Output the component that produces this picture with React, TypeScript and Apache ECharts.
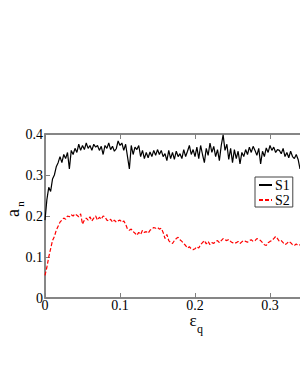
import React, { useEffect, useRef } from "react";
import * as echarts from "echarts";

const X_STEP = 0.0025;
const X_TICKS = [0, 0.1, 0.2, 0.3, 0.4];
const Y_TICKS = [0, 0.1, 0.2, 0.3, 0.4];
const SERIES_NAMES = ["S1", "S2"];

const S1 = [
  0.19, 0.24, 0.27, 0.26, 0.29, 0.30, 0.32, 0.33, 0.345, 0.33,
  0.35, 0.34, 0.355, 0.315, 0.36, 0.35, 0.365, 0.355, 0.375, 0.36,
  0.372, 0.362, 0.378, 0.365, 0.372, 0.36, 0.375, 0.368, 0.372, 0.36,
  0.37, 0.35, 0.372, 0.365, 0.378, 0.362, 0.37, 0.358, 0.364, 0.383,
  0.372, 0.378, 0.36, 0.375, 0.345, 0.315, 0.372, 0.35, 0.368, 0.362,
  0.372, 0.345, 0.36, 0.34, 0.355, 0.342, 0.356, 0.345, 0.36, 0.348,
  0.362, 0.35, 0.36, 0.345, 0.352, 0.335, 0.36, 0.34, 0.355, 0.338,
  0.358, 0.345, 0.352, 0.34, 0.362, 0.345, 0.358, 0.372, 0.35, 0.362,
  0.345, 0.368, 0.34, 0.372, 0.35, 0.33, 0.365, 0.348, 0.378, 0.355,
  0.37, 0.345, 0.362, 0.335, 0.372, 0.398, 0.36, 0.375, 0.338, 0.365,
  0.33, 0.362, 0.34, 0.358, 0.327, 0.355, 0.345, 0.362, 0.35, 0.368,
  0.355, 0.37, 0.36, 0.348, 0.365, 0.327, 0.358, 0.345, 0.366, 0.355,
  0.372, 0.36, 0.368, 0.355, 0.362, 0.36, 0.352, 0.365, 0.345, 0.355,
  0.342, 0.358, 0.345, 0.34, 0.35, 0.338, 0.315, 0.33, 0.32, 0.335,
  0.33,
];

const S2 = [
  0.055, 0.075, 0.1, 0.12, 0.14, 0.15, 0.165, 0.175, 0.185, 0.19,
  0.195, 0.192, 0.2, 0.198, 0.203, 0.2, 0.205, 0.202, 0.198, 0.205,
  0.18, 0.19, 0.195, 0.19, 0.198, 0.188, 0.195, 0.2, 0.19, 0.197,
  0.192, 0.2, 0.198, 0.19, 0.188, 0.192, 0.185, 0.19, 0.185, 0.188,
  0.19, 0.185, 0.188, 0.18, 0.168, 0.165, 0.168, 0.162, 0.158, 0.153,
  0.16, 0.155, 0.165, 0.16, 0.162, 0.158, 0.165, 0.168, 0.172, 0.17,
  0.172, 0.168, 0.17, 0.16, 0.145, 0.155, 0.14, 0.135, 0.133, 0.14,
  0.145, 0.148, 0.142, 0.138, 0.133, 0.128, 0.122, 0.125, 0.12, 0.118,
  0.12, 0.125, 0.122, 0.13, 0.135, 0.14, 0.132, 0.138, 0.13, 0.135,
  0.133, 0.138, 0.14, 0.135, 0.14, 0.145, 0.142, 0.14, 0.143, 0.138,
  0.135, 0.133, 0.135, 0.138, 0.133, 0.137, 0.14, 0.138, 0.136, 0.14,
  0.142, 0.138, 0.14, 0.145, 0.143, 0.14, 0.135, 0.13, 0.128, 0.135,
  0.138, 0.14, 0.145, 0.15, 0.145, 0.138, 0.14, 0.135, 0.13, 0.133,
  0.138, 0.135, 0.13, 0.128, 0.132, 0.128, 0.13, 0.133, 0.13, 0.128,
  0.132,
];

const FONT = "'Liberation Serif', 'Times New Roman', serif";
const AXIS_COLOR = "#7f7f7f";
const VISIBLE_X_MAX = 0.35;

function toPairs(values: number[]) {
  return values.map((v, i) => [+(i * X_STEP).toFixed(4), v]);
}

export default function App() {
  const ref = useRef<HTMLDivElement>(null);

  useEffect(() => {
    if (!ref.current) return;
    const chart = echarts.init(ref.current, undefined, { renderer: "svg" });
    const xMin = X_TICKS[0];
    const xMax = X_TICKS[X_TICKS.length - 1];
    const xInt = X_TICKS[1] - X_TICKS[0];
    const yMin = Y_TICKS[0];
    const yMax = Y_TICKS[Y_TICKS.length - 1];
    const yInt = Y_TICKS[1] - Y_TICKS[0];

    const labelFmt = (v: number) => (v === 0 ? "0" : String(+v.toFixed(2)));
    const xLabelFmt = (v: number) => (v > VISIBLE_X_MAX ? "" : labelFmt(v));

    chart.setOption({
      animation: false,
      backgroundColor: "#ffffff",
      grid: {
        left: 45,
        top: 134,
        width: 300,
        height: 164,
        outerBoundsMode: "none",
        containLabel: false,
        show: true,
        borderColor: AXIS_COLOR,
        borderWidth: 1.5,
        backgroundColor: "transparent",
      },
      legend: {
        data: SERIES_NAMES,
        orient: "vertical",
        left: 255,
        top: 177,
        itemWidth: 13,
        itemHeight: 8,
        itemGap: 1,
        padding: [1, 3, 0, 3],
        borderColor: "#444",
        borderWidth: 1,
        borderRadius: 0,
        itemStyle: { opacity: 0 },
        textStyle: {
          fontFamily: FONT,
          fontSize: 14,
          lineHeight: 12,
          color: "#000",
          padding: [0, 0, 0, -2],
        },
      },
      xAxis: [
        {
          type: "value",
          min: xMin,
          max: xMax,
          interval: xInt,
          position: "bottom",
          axisLine: { show: true, lineStyle: { color: AXIS_COLOR, width: 1.5 } },
          axisTick: { show: true, inside: true, length: 5, lineStyle: { color: AXIS_COLOR, width: 1 } },
          axisLabel: {
            fontFamily: FONT,
            fontSize: 14,
            lineHeight: 12,
            color: "#000",
            margin: 1,
            formatter: xLabelFmt,
          },
          splitLine: { show: false },
        },
        {
          type: "value",
          min: xMin,
          max: xMax,
          interval: xInt,
          position: "top",
          axisLine: { show: true, lineStyle: { color: AXIS_COLOR, width: 1.5 } },
          axisTick: { show: true, inside: true, length: 5, lineStyle: { color: AXIS_COLOR, width: 1 } },
          axisLabel: { show: false },
          splitLine: { show: false },
        },
      ],
      yAxis: [
        {
          type: "value",
          min: yMin,
          max: yMax,
          interval: yInt,
          position: "left",
          axisLine: { show: true, lineStyle: { color: AXIS_COLOR, width: 1.5 } },
          axisTick: { show: true, inside: true, length: 5, lineStyle: { color: AXIS_COLOR, width: 1 } },
          axisLabel: { fontFamily: FONT, fontSize: 14, color: "#000", margin: 2, formatter: labelFmt },
          splitLine: { show: false },
        },
      ],
      series: [
        {
          name: SERIES_NAMES[0],
          type: "line",
          data: toPairs(S1),
          symbol: "none",
          lineStyle: { color: "#000000", width: 1.2 },
          itemStyle: { color: "#000000" },
          z: 3,
        },
        {
          name: SERIES_NAMES[1],
          type: "line",
          data: toPairs(S2),
          symbol: "none",
          lineStyle: { color: "#ff0000", width: 1.2, type: [4, 2] },
          itemStyle: { color: "#ff0000" },
          z: 2,
        },
      ],
      graphic: [
        {
          type: "text",
          rotation: Math.PI / 2,
          x: 13,
          y: 213,
          style: {
            text: "a",
            fontFamily: FONT,
            fontSize: 18,
            lineHeight: 12,
            fill: "#000",
            align: "center",
            verticalAlign: "middle",
          },
        },
        {
          type: "text",
          rotation: Math.PI / 2,
          x: 20,
          y: 204,
          style: {
            text: "n",
            fontFamily: FONT,
            fontSize: 11,
            lineHeight: 8,
            fill: "#000",
            align: "center",
            verticalAlign: "middle",
          },
        },
        {
          type: "text",
          x: 193,
          y: 320.5,
          style: {
            text: "ε",
            fontFamily: FONT,
            fontSize: 17,
            lineHeight: 10,
            fill: "#000",
            align: "center",
            verticalAlign: "middle",
          },
        },
        {
          type: "text",
          x: 200,
          y: 329,
          style: {
            text: "q",
            fontFamily: FONT,
            fontSize: 12,
            lineHeight: 8,
            fill: "#000",
            align: "center",
            verticalAlign: "middle",
          },
        },
      ],
    });
    return () => chart.dispose();
  }, []);

  return (
    <div
      ref={ref}
      style={{ position: "fixed", left: 0, top: 0, width: 300, height: 388, background: "#fff" }}
    />
  );
}
